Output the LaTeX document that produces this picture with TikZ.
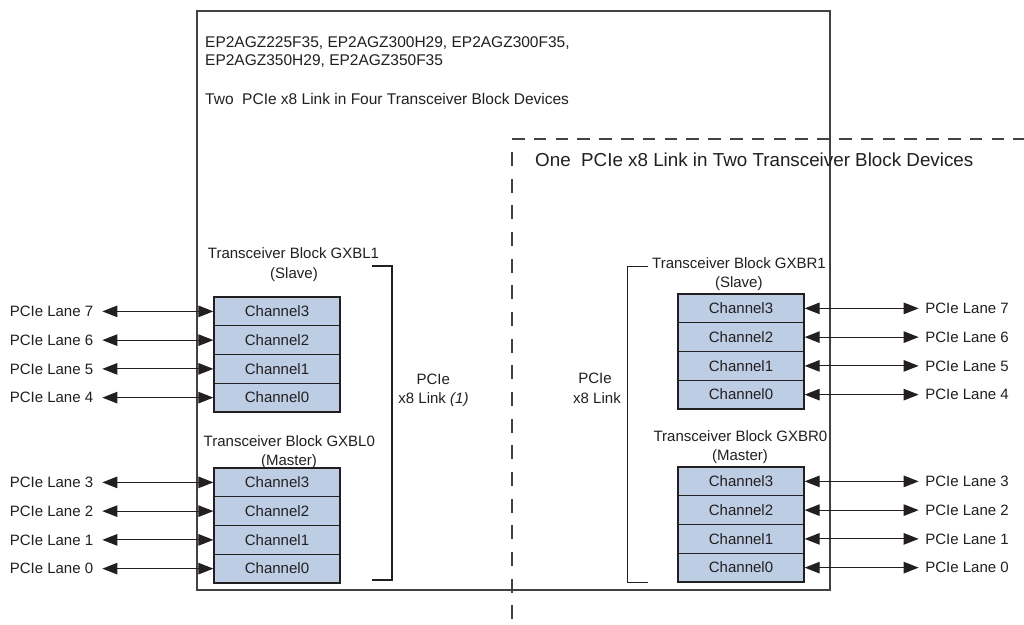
\documentclass[tikz,border=0pt]{standalone}
\usepackage{fontspec}
\setmainfont{Liberation Sans}
\usetikzlibrary{arrows.meta}
\definecolor{chfill}{RGB}{188,205,228}
\definecolor{ink}{RGB}{35,31,32}
\newcommand\fsA{\fontsize{15}{18}\selectfont}
\newcommand\fsH{\fontsize{15.5}{18}\selectfont}
\newcommand\fsB{\fontsize{18.8}{22}\selectfont}
\begin{document}
\begin{tikzpicture}[x=1pt,y=-1pt,
  ch/.style={draw=ink, line width=1.3pt, fill=chfill, minimum width=126pt, minimum height=28.75pt, inner sep=0pt, font=\fsA, text=ink},
  lane/.style={inner sep=0pt, font=\fsA, text=ink},
  head/.style={inner sep=0pt, font=\fsH, text=ink},
  bi/.style={{Triangle[length=15pt,width=11.5pt]}-{Triangle[length=15pt,width=11.5pt]}, line width=1.1pt, draw=ink},
  brk/.style={draw=ink, line width=1.2pt},
  frame/.style={draw=ink!85, line width=1.3pt},
  dashline/.style={draw=ink!85, line width=1.1pt}]
\useasboundingbox (0,0) rectangle (1024,624);
\fill[white] (0,0) rectangle (1024,624);

% outer frame and dashed region
\draw[frame] (197,11) rectangle (830,590);
\draw[dashline, dash pattern=on 12.5pt off 9.3pt] (512,139) -- (1024,139);
\draw[dashline, dash pattern=on 14pt off 12.67pt] (512,152) -- (512,620);

% header texts
\node[head, anchor=base west] (h1) at (205,47) {EP2AGZ225F35, EP2AGZ300H29, EP2AGZ300F35,};
\node[head, anchor=base west] (h2) at (205,65.5) {EP2AGZ350H29, EP2AGZ350F35};
\node[head, anchor=base west] (h3) at (205,104) {Two~~PCIe x8 Link in Four Transceiver Block Devices};
\node[inner sep=0pt, font=\fsB, text=ink, anchor=base west] (h4) at (535,166.3) {One~~PCIe x8 Link in Two Transceiver Block Devices};

% left channel stacks
\node[ch] (L1c3) at (277,311.375) {Channel3};
\node[ch] (L1c2) at (277,340.125) {Channel2};
\node[ch] (L1c1) at (277,368.875) {Channel1};
\node[ch] (L1c0) at (277,397.625) {Channel0};
\node[ch] (L0c3) at (277,482.375) {Channel3};
\node[ch] (L0c2) at (277,511.125) {Channel2};
\node[ch] (L0c1) at (277,539.875) {Channel1};
\node[ch] (L0c0) at (277,568.625) {Channel0};

% right channel stacks
\node[ch] (R1c3) at (741,308.375) {Channel3};
\node[ch] (R1c2) at (741,337.125) {Channel2};
\node[ch] (R1c1) at (741,365.875) {Channel1};
\node[ch] (R1c0) at (741,394.625) {Channel0};
\node[ch] (R0c3) at (741,481.375) {Channel3};
\node[ch] (R0c2) at (741,510.125) {Channel2};
\node[ch] (R0c1) at (741,538.875) {Channel1};
\node[ch] (R0c0) at (741,567.625) {Channel0};

% block titles
\node[lane, anchor=base] (tL1) at (293.5,258.4) {Transceiver Block GXBL1};
\node[lane, anchor=base] (sL1) at (294,278.3) {(Slave)};
\node[lane, anchor=base] (tL0) at (289.3,446.4) {Transceiver Block GXBL0};
\node[lane, anchor=base] (sL0) at (289,465.2) {(Master)};
\node[lane, anchor=base] (tR1) at (739,268.9) {Transceiver Block GXBR1};
\node[lane, anchor=base] (sR1) at (738.8,287.8) {(Slave)};
\node[lane, anchor=base] (tR0) at (740.4,441.4) {Transceiver Block GXBR0};
\node[lane, anchor=base] (sR0) at (740,460.2) {(Master)};

% brackets
\draw[brk] (372,266) -- (392,266) -- (392,580) -- (372,580);
\draw[brk] (648,266.2) -- (627.5,266.2) -- (627.5,582.3) -- (648,582.3);

% link labels
\node[lane, anchor=base] (pL) at (433.3,384.4) {PCIe};
\node[lane, anchor=base] (xL) at (433.5,403.7) {x8 Link \textit{(1)}};
\node[lane, anchor=base] (pR) at (595,383.4) {PCIe};
\node[lane, anchor=base] (xR) at (597,403.1) {x8 Link};

% left lanes
\foreach \c/\n in {L1c3/7, L1c2/6, L1c1/5, L1c0/4, L0c3/3, L0c2/2, L0c1/1, L0c0/0} {
  \node[lane, anchor=east] (laneL\n) at ([xshift=-120pt]\c.west) {PCIe Lane \n};
  \draw[bi, shorten <=9pt] (laneL\n.east) -- (\c.west);
}
% right lanes
\foreach \c/\n in {R1c3/7, R1c2/6, R1c1/5, R1c0/4, R0c3/3, R0c2/2, R0c1/1, R0c0/0} {
  \node[lane, anchor=west] (laneR\n) at ([xshift=120.5pt]\c.east) {PCIe Lane \n};
  \draw[bi, shorten >=6.5pt] (\c.east) -- (laneR\n.west);
}
\end{tikzpicture}
\end{document}
